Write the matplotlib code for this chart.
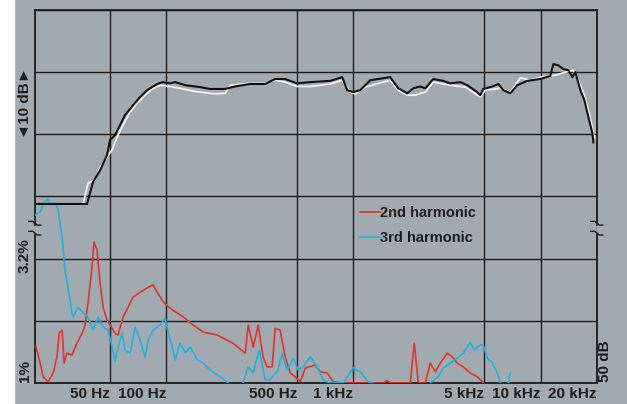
import numpy as np
import matplotlib.pyplot as plt
from matplotlib.transforms import ScaledTranslation, blended_transform_factory

# frequency response, two measurements (black / white), level in dB (grid: 10 dB per row)
resp_black_f = [20, 37.9, 40.8, 44.5, 48.5, 50.3, 53.5, 56.9, 60.5, 66.8, 72.8, 79.3, 85.4, 89.7,
                96.5, 105, 112, 127, 152, 172, 207, 234, 281, 339, 383, 433, 500, 589, 753, 873,
                928, 1000, 1089, 1232, 1575, 1739, 1942, 2091, 2278, 2423, 2673, 3023, 3295, 3726,
                4061, 4592, 4764, 4945, 5525, 5946, 6323, 6891, 7509, 8495, 9968, 11272, 11695,
                12433, 13223, 14066, 14771, 15327, 16301, 17124, 17986, 18897, 19129]
resp_black_db = [28.8, 28.8, 32.3, 34.2, 36.7, 39.1, 39.9, 41.5, 43.1, 44.7, 46.0, 47.1, 47.7, 48.1,
                 48.4, 48.2, 48.4, 47.9, 47.6, 47.3, 47.3, 47.7, 48.1, 48.1, 48.9, 48.9, 48.2, 48.4, 48.6, 49.2,
                 47.1, 46.8, 47.1, 48.7, 49.2, 47.4, 46.6, 47.4, 47.7, 47.4, 48.9, 48.6, 48.2, 48.4,
                 47.9, 46.8, 46.3, 47.3, 47.7, 48.1, 47.1, 46.6, 47.9, 48.6, 48.9, 49.4, 51.3,
                 51.1, 50.5, 50.3, 49.2, 50.0, 47.1, 45.5, 42.8, 40.2, 38.7]

resp_white_f = [20, 36.1, 38.4, 41.8, 44.5, 47.3, 51.6, 55.5, 59.0, 64.4, 70.2, 77.4, 84.3, 93.0,
                105, 119, 143, 183, 207, 220, 281, 339, 383, 433, 500, 589, 753, 873, 963, 1024,
                1158, 1575, 1739, 1942, 2142, 2423, 2673, 3295, 3963, 4764, 5068, 6096, 6891, 7793,
                8815, 9968, 11987, 13552, 14954, 15902, 17124, 17986, 18897, 19364]
resp_white_db = [28.8, 28.8, 32.2, 32.6, 34.6, 35.9, 37.5, 39.9, 41.5, 43.6, 45.0, 46.3, 47.3, 47.9,
                 47.7, 47.4, 46.9, 46.5, 46.6, 47.9, 48.2, 48.2, 48.7, 48.4, 47.7, 47.7, 48.1, 48.7, 46.8, 46.5,
                 47.6, 48.7, 47.1, 46.3, 46.3, 46.8, 48.4, 47.9, 47.6, 46.0, 47.1, 47.4, 46.8, 49.1,
                 48.7, 49.2, 49.5, 50.0, 50.3, 48.7, 46.3, 43.9, 41.0, 39.5]

# distortion on the same grid (0 = 1 %, 20 = 3.2 %)
h2_f = [20.25, 21.3, 22.1, 23.5, 25.0, 26.2, 26.9, 27.9, 28.6, 29.6, 31.5, 33.5, 35.7, 37.0, 38.4,
        40.3, 41.3, 42.9, 44.5, 46.2, 48.5, 51.6, 53.5, 55.5, 59.0, 62.8, 66.8, 72.8, 79.3, 85.4,
        89.7, 95.4, 101, 109, 124, 140, 158, 188, 228, 265, 275, 292, 311, 330, 347, 369, 383,
        407, 433, 461, 490, 521, 554, 626, 666, 726, 781, 884, 1450, 1513, 1580, 2015, 2116,
        2223, 2423, 2576, 2740, 2914, 3176, 3377, 3591, 3866, 4213, 4592, 4945]
h2_db = [5.8, 3.2, 1.0, 0.2, 1.6, 4.2, 8.0, 8.5, 3.2, 4.8, 4.5, 6.4, 8.0, 9.3, 12.9,
         18.6, 22.7, 21.4, 16.1, 12.2, 10.1, 8.8, 8.0, 7.7, 10.6, 12.2, 13.8, 14.6, 15.3, 15.8,
         14.6, 13.3, 12.5, 11.7, 10.6, 9.3, 8.2, 7.7, 6.4, 4.8, 9.3, 5.8, 9.3, 4.2, 2.6, 2.6, 8.8,
         8.5, 4.2, 1.6, 1.0, 0.2, 2.4, 2.9, 1.8, 1.6, 0.2, 0.0, 0.0, 0.4, 0.0, 0.0, 6.4,
         0.0, 0.0, 3.2, 1.8, 3.2, 4.8, 4.2, 3.2, 2.6, 1.6, 1.0, 0.0]

nan = float('nan')
h3_f = [20, 21.3, 22.1, 23.2, 24.1, 25.6, 26.5, 27.9, 28.9, 30.8, 31.5, 31.9, 33.9, 36.1, 38.4,
        40.8, 43.4, 46.2, 49.1, 51.6, 53.5, 55.5, 58.3, 60.5, 64.4, 68.4, 72.8, 77.4, 80.3, 85.4,
        93.0, 99, 103, 108, 112, 119, 127, 135, 147, 158, 172, 195, 215, 236,
        258, 275, 292, 315, 339, 360, 397, 417, 444, 478, 508, 540, 589, 642, 691, 753, 884,
        1000, 1089, 1202, 1278, 1900,
        2576, 2843, 3023, 3295, 3591, 3866, 4213, 4426, 4592, 4764, 4945, 5194, 5525, 5873, 6096, 6400,
        6723, 6891]
h3_db = [27.0, 27.5, 28.6, 29.7, 28.9, 28.9, 28.1, 23.5, 18.2, 13.3, 11.3, 10.6, 12.2, 11.3, 10.6,
         8.5, 10.6, 9.0, 8.5, 5.8, 3.4, 5.8, 8.0, 5.3, 4.8, 9.0, 6.9, 4.2, 6.9, 8.5,
         9.3, 10.5, 8.0, 5.8, 3.7, 6.4, 4.8, 5.8, 3.7, 3.2, 2.1, 1.0, 0.0, nan,
         0.0, 2.6, 1.6, 5.3, 0.5, 0.5, 2.1, 4.8, 2.1, 4.0, 2.1, 2.6, 4.2, 2.6, 0.5, 0.0, 0.0,
         2.4, 1.8, 0.2, 0.0, nan,
         0.0, 1.0, 2.4, 3.2, 4.0, 4.8, 6.6, 5.3, 5.8, 6.1, 6.1, 4.0, 3.2, 1.6, 0.0, nan,
         0.0, 1.6]

grid_f = [50, 100, 500, 1000, 5000, 10000, 20000]
grid_labels = ["50 Hz", "100 Hz", "500 Hz", "1 kHz", "5 kHz", "10 kHz", "20 kHz"]

bg = '#a1aab1'
ink = '#1c1c1c'
fonts = ['Liberation Sans', 'DejaVu Sans']
plt.rcParams['font.family'] = fonts

fig = plt.figure(figsize=(6.27, 4.04), dpi=100, facecolor=bg)
fig.patches.append(plt.Rectangle((0, 0), 14 / 627, 1, transform=fig.transFigure,
                                 color='white', zorder=-1))
ax = fig.add_axes([35 / 627, 21 / 404, 562 / 627, 373 / 404])
ax.set_facecolor(bg)
ax.set_xscale('log')
ax.set_xlim(20, 20000)
ax.set_ylim(0, 60)

ax.set_xticks(grid_f)
ax.set_xticks([], minor=True)
ax.set_xticklabels(grid_labels, fontsize=11, fontweight='bold', color=ink)
off = ScaledTranslation(5 / 100, 0, fig.dpi_scale_trans)
for lab in ax.get_xticklabels():
    lab.set_ha('right')
    lab.set_transform(lab.get_transform() + off)
ax.set_yticks(range(0, 61, 10))
ax.set_yticklabels([])
ax.tick_params(length=0, pad=3)
ax.grid(True, color=ink, linewidth=1.0)
ax.set_axisbelow(True)

for s in ['top', 'bottom']:
    ax.spines[s].set_color(ink)
    ax.spines[s].set_linewidth(1.3)
ax.spines['left'].set_visible(False)
ax.spines['right'].set_visible(False)

# broken side frames
tr = blended_transform_factory(ax.transAxes, ax.transData)
lo, hi = 23.8, 25.4
for xf in [0, 1]:
    ax.plot([xf, xf], [0, lo], color=ink, lw=1.3, transform=tr, clip_on=False)
    ax.plot([xf, xf], [hi, 60], color=ink, lw=1.3, transform=tr, clip_on=False)
    for yb in [lo, hi]:
        ax.plot([xf - 0.011, xf - 0.004, xf + 0.004, xf + 0.01], [yb + 0.6, yb + 0.6, yb, yb],
                color=ink, lw=1.0, clip_on=False, transform=tr)

ax.plot(resp_white_f, resp_white_db, color='#f2f2f2', lw=1.3, zorder=3)
ax.plot(resp_black_f, resp_black_db, color='#111111', lw=1.5, zorder=4)
l2, = ax.plot(h2_f, h2_db, color='#e8302a', lw=1.2, zorder=3, label='2nd harmonic')
l3, = ax.plot(h3_f, h3_db, color='#1fb2dc', lw=1.2, zorder=3, label='3rd harmonic')

ax.legend(handles=[l2, l3], loc='upper left', bbox_to_anchor=(0.578, 0.475), frameon=False,
          borderpad=0, borderaxespad=0, handlelength=1.35, handletextpad=0.05, labelspacing=0.75,
          prop={'family': fonts, 'size': 10.5, 'weight': 'bold'}, labelcolor=ink)

ax.text(-0.0178, 45, "\u25c410 dB\u25ba", rotation=90, ha='center', va='center', transform=tr,
        fontsize=11, fontweight='bold', color=ink)
ax.text(-0.0178, 20.5, "3.2%", rotation=90, ha='center', va='center', transform=tr,
        fontsize=11, fontweight='bold', color=ink)
ax.text(-0.0178, 0.2, "1%", rotation=90, ha='center', va='bottom', transform=tr,
        fontsize=11, fontweight='bold', color=ink)
ax.text(1.0142, 0.2, "50 dB", rotation=90, ha='center', va='bottom', transform=tr,
        fontsize=11, fontweight='bold', color=ink)

fig.savefig('out.png', dpi=100, facecolor=bg)
